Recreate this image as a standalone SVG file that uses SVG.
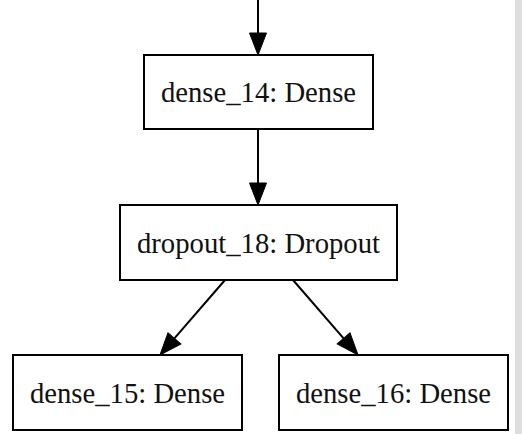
<svg xmlns="http://www.w3.org/2000/svg" width="522" height="434" viewBox="0 0 522 434">
<style>
.box{fill:#fff;stroke:#000;stroke-width:2}
.lbl{font-family:"Liberation Serif","Times New Roman",serif;font-size:28.7px;fill:#111;text-anchor:middle}
.edge{stroke:#000;stroke-width:2;fill:none}
</style>
<defs>
<marker id="ah" markerUnits="userSpaceOnUse" markerWidth="23" markerHeight="18" refX="0" refY="8.5" orient="auto" overflow="visible">
<path d="M0,0 L22,8.5 L0,17 Z" fill="#000" stroke="#000" stroke-width="1"/>
</marker>
</defs>
<rect x="0" y="0" width="522" height="434" fill="#fff"/>
<rect x="515" y="0" width="7" height="434" fill="#dedede"/>
<g id="connectors">
<line class="edge" x1="258" y1="0" x2="258" y2="33" marker-end="url(#ah)"/>
<line class="edge" x1="258" y1="129" x2="258" y2="183" marker-end="url(#ah)"/>
<line class="edge" x1="225" y1="280" x2="174.4" y2="338.4" marker-end="url(#ah)"/>
<line class="edge" x1="293" y1="280" x2="343.6" y2="338.4" marker-end="url(#ah)"/>
</g>
<g id="dense_14">
<rect class="box" x="144" y="55" width="229" height="74"/>
<text class="lbl" x="258.5" y="102">dense_14: Dense</text>
</g>
<g id="dropout_18">
<rect class="box" x="120" y="205" width="277" height="75"/>
<text class="lbl" x="258.5" y="253">dropout_18: Dropout</text>
</g>
<g id="dense_15">
<rect class="box" x="13" y="355" width="229" height="75"/>
<text class="lbl" x="127.5" y="403">dense_15: Dense</text>
</g>
<g id="dense_16">
<rect class="box" x="279" y="355" width="229" height="75"/>
<text class="lbl" x="393.5" y="403">dense_16: Dense</text>
</g>
</svg>
